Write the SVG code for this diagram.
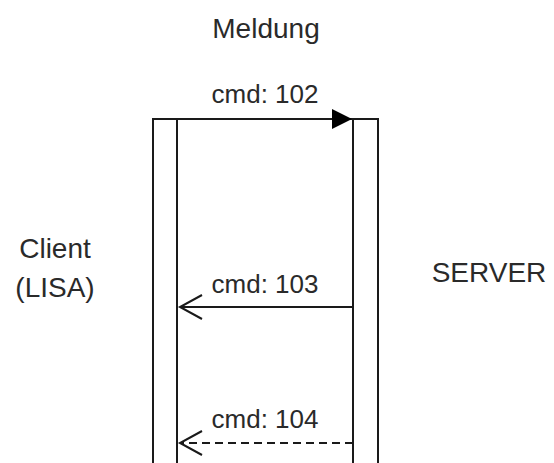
<svg xmlns="http://www.w3.org/2000/svg" width="554" height="463" viewBox="0 0 554 463">
  <style>
    .t { font-family: "Liberation Sans", Arial, sans-serif; fill: #2a2a2a; }
    .big { font-size: 28px; }
    .lbl { font-size: 26px; }
    .life { fill: #ffffff; stroke: #1a1a1a; stroke-width: 2; }
    .msg { fill: none; stroke: #1a1a1a; stroke-width: 2; }
  </style>
  <defs>
    <marker id="block" markerWidth="22" markerHeight="22" refX="20" refY="10" orient="auto" markerUnits="userSpaceOnUse">
      <path d="M0,0 L20,10 L0,20 Z" fill="#000"/>
    </marker>
    <marker id="open" markerWidth="26" markerHeight="30" refX="23" refY="13" orient="auto" markerUnits="userSpaceOnUse">
      <path d="M1,1 L23,13 L1,25" fill="none" stroke="#1a1a1a" stroke-width="2"/>
    </marker>
  </defs>
  <rect width="554" height="463" fill="#ffffff"/>
  <g id="client">
    <rect class="life" x="153" y="119" width="24" height="360"/>
    <text class="t big" x="55" y="258" text-anchor="middle">Client</text>
    <text class="t big" x="55" y="297" text-anchor="middle">(LISA)</text>
  </g>
  <g id="server">
    <rect class="life" x="353" y="119" width="25" height="360"/>
    <text class="t big" x="489" y="282" text-anchor="middle">SERVER</text>
  </g>
  <g id="title">
    <text class="t big" x="266" y="38" text-anchor="middle">Meldung</text>
  </g>
  <g id="connectors">
    <line class="msg" x1="177" y1="119" x2="352" y2="119" marker-end="url(#block)"/>
    <text class="t lbl" x="265" y="103" text-anchor="middle">cmd: 102</text>
    <line class="msg" x1="353" y1="307" x2="180" y2="307" marker-end="url(#open)"/>
    <text class="t lbl" x="265" y="293" text-anchor="middle">cmd: 103</text>
    <line class="msg" x1="353" y1="443" x2="180" y2="443" stroke-dasharray="8 5" marker-end="url(#open)"/>
    <text class="t lbl" x="265" y="428" text-anchor="middle">cmd: 104</text>
  </g>
</svg>
